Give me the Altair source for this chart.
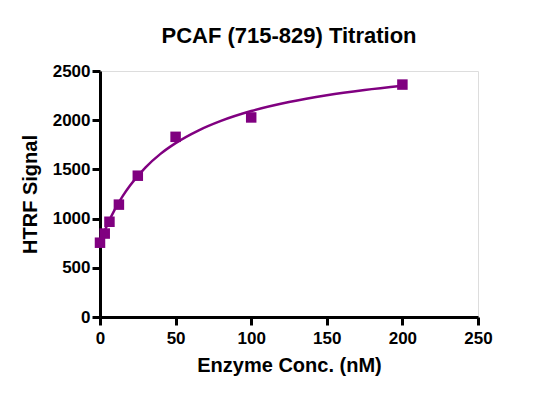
import altair as alt
import pandas as pd

conc = [0, 3.125, 6.25, 12.5, 25, 50, 100, 200]
signal = [755, 848, 968, 1142, 1436, 1831, 2028, 2362]

# Fitted curve values
curve_x = [0, 2, 5, 10, 15, 20, 30, 40, 50, 65, 80, 100, 125, 150, 175, 200]
curve_y = [755, 835, 943, 1099, 1229, 1340, 1519, 1658, 1767, 1895, 1993, 2093, 2185, 2254, 2307, 2350]

x_ticks = [0, 50, 100, 150, 200, 250]
y_ticks = [0, 500, 1000, 1500, 2000, 2500]

PURPLE = "#800080"
FONT = "Liberation Sans"

pts = pd.DataFrame({"conc": conc, "signal": signal})
cur = pd.DataFrame({"conc": curve_x, "signal": curve_y})

xscale = alt.Scale(domain=[0, 250], nice=False, zero=False)
yscale = alt.Scale(domain=[0, 2500], nice=False, zero=False)

xaxis = alt.Axis(values=x_ticks, format="d", title="Enzyme Conc. (nM)", grid=False,
                 domainWidth=3, domainColor="black", tickWidth=3, tickColor="black",
                 tickSize=8, labelFontSize=17, labelFontWeight="bold", labelFont=FONT,
                 labelColor="black", labelPadding=5, titleFontSize=20, titleFontWeight="bold",
                 titleFont=FONT, titleColor="black", titlePadding=9, labelFlush=False)
yaxis = alt.Axis(values=y_ticks, format="d", title="HTRF Signal", grid=False,
                 domainWidth=3, domainColor="black", tickWidth=3, tickColor="black",
                 tickSize=8, labelFontSize=17, labelFontWeight="bold", labelFont=FONT,
                 labelColor="black", labelPadding=2, titleFontSize=20, titleFontWeight="bold",
                 titleFont=FONT, titleColor="black", titlePadding=12, labelFlush=False)

line = alt.Chart(cur).mark_line(color=PURPLE, strokeWidth=2.5, interpolate="monotone").encode(
    x=alt.X("conc:Q", scale=xscale, axis=xaxis),
    y=alt.Y("signal:Q", scale=yscale, axis=yaxis),
)

points = alt.Chart(pts).mark_square(color=PURPLE, size=110, opacity=1).encode(
    x=alt.X("conc:Q", scale=xscale),
    y=alt.Y("signal:Q", scale=yscale),
)

chart = (line + points).properties(
    width=378,
    height=246,
    title=alt.TitleParams("PCAF (715-829) Titration", fontSize=22, fontWeight="bold",
                          font=FONT, color="black", anchor="middle", offset=14),
    autosize=alt.AutoSizeParams(type="none"),
    padding={"left": 92, "top": 63, "right": 51, "bottom": 62},
).configure_view(stroke=None).configure(background="white")

chart.save("out.html", embed_options={"renderer": "svg", "actions": False})
